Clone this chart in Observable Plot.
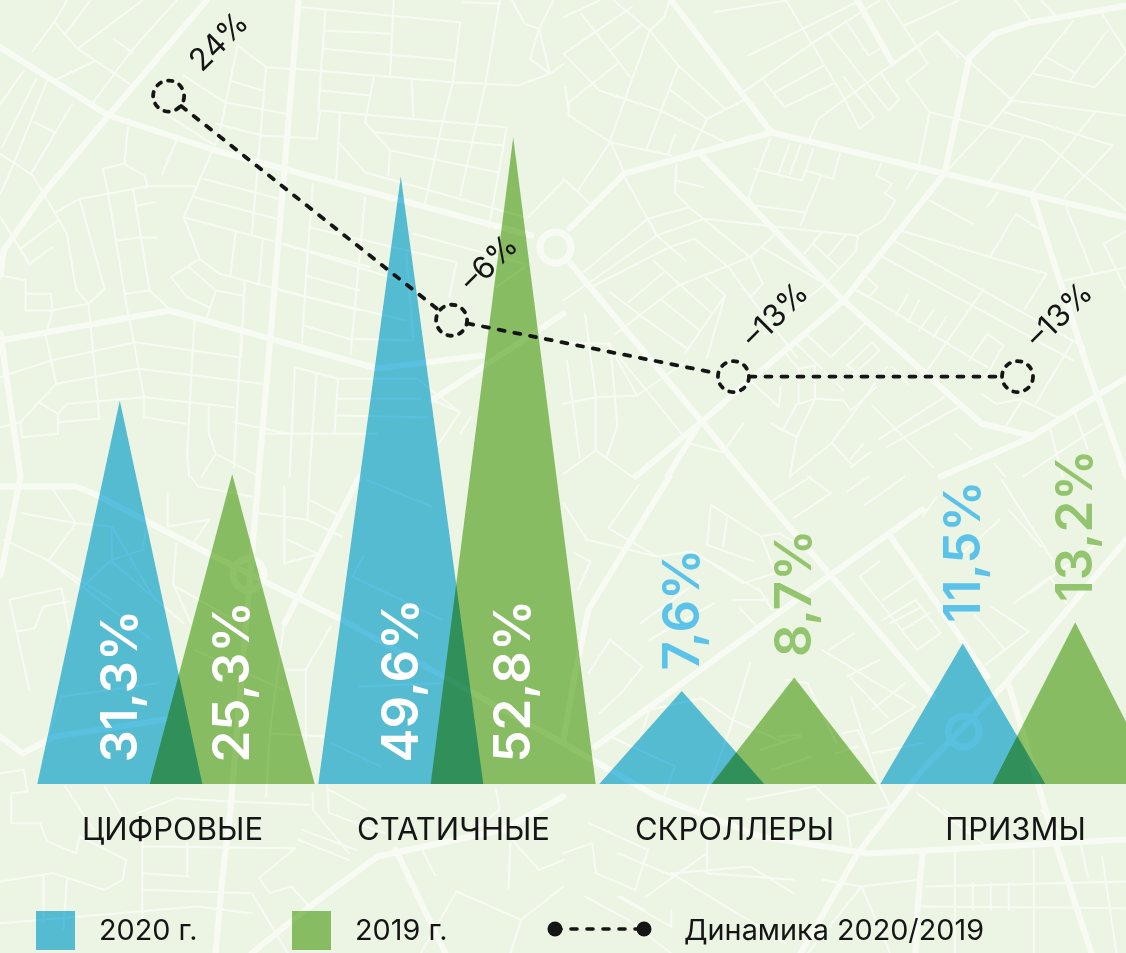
<!DOCTYPE html>
<html lang="ru">
<head>
<meta charset="utf-8">
<title>Динамика</title>
<script src="https://cdn.jsdelivr.net/npm/d3@7"></script>
<script src="https://cdn.jsdelivr.net/npm/@observablehq/plot@0.6"></script>
<style>
html,body{margin:0;padding:0;background:#ecf5e3;overflow:hidden}
#page{position:relative;width:1126px;height:953px;font-family:Inter,sans-serif;color:#151515}
#chart svg{display:block}
.lg{position:absolute;font-size:28.8px;line-height:38px;white-space:nowrap}
.sw{position:absolute;top:911px;width:39px;height:39px;mix-blend-mode:multiply}
</style>
</head>
<body>
<div id="page">
  <div id="chart"></div>
  <div class="sw" style="left:36px;background:#5BC3EA"></div>
  <div class="lg" id="l2020" style="left:99px;top:911px"></div>
  <div class="sw" style="left:292px;background:#93C46E"></div>
  <div class="lg" id="l2019" style="left:355px;top:911px"></div>
  <svg style="position:absolute;left:545px;top:919px" width="110" height="20">
    <line x1="10" y1="10" x2="99" y2="10" stroke="#151515" stroke-width="3.6" stroke-dasharray="6 10" stroke-linecap="round"/>
    <circle cx="10" cy="10" r="7.5" fill="#151515"/><circle cx="99" cy="10" r="7.5" fill="#151515"/>
  </svg>
  <div class="lg" id="ldyn" style="left:684px;top:911px"></div>
</div>
<script>
// ---- chart data ----
const categories = ["ЦИФРОВЫЕ", "СТАТИЧНЫЕ", "СКРОЛЛЕРЫ", "ПРИЗМЫ"];
const values2020 = [31.3, 49.6, 7.6, 11.5];
const values2019 = [25.3, 52.8, 8.7, 13.2];
const dynamicsLabels = ["24%", "–6%", "–13%", "–13%"];
const dynamicsLevel = [56.2, 37.9, 33.3, 33.3];
const dynamicsPos = [-0.028, 0.979, 1.982, 2.993];
const legendNames = ["2020 г.", "2019 г.", "Динамика 2020/2019"];

// ---- background street map: flat x,y lists, in map-sheet units ----
const roadsMajor = [
 [0,47,108,115,215,150,531,235],
 [206,0,108,115,43,193,3,250,0,275],
 [298,0,284,167,273,300,258,476,230,809,222,876,215,953],
 [0,340,169,310,377,368,481,355],
 [431,400,563,313],
 [0,333,20,476,10,526,0,575],
 [671,0,771,132],
 [624,173,771,132,944,173,1126,217],
 [624,173,569,228],
 [701,155,843,300,981,423,1030,435],
 [570,263,703,423,746,476,933,696],
 [1126,5,1030,22,994,33,969,57,944,173,843,300,699,423,635,476],
 [1033,198,1087,367,1126,476],
 [857,0,892,63],
 [1126,377,1030,437,940,476],
 [699,423,667,476],
 [669,476,588,609,574,676,563,740],
 [922,509,832,573,595,746],
 [890,536,987,676],
 [1126,539,1005,683,922,769,857,853,800,953],
 [563,743,656,796,760,836,868,853,1126,839],
 [1008,683,1055,843,1091,953],
 [922,853,917,909,915,953],
 [0,486,75,486,93,493,208,553,280,589,341,619,563,743],
 [284,623,359,476],
 [377,856,309,906,251,953],
 [377,856,503,829,563,796],
 [395,849,445,953],
 [0,736,22,753,54,736,165,719]
];
const roundabouts = [[555,247],[248,574],[963,731]];
const sheetNW = [
 [185,0,150,65,90,150],[150,65,215,145,360,250],[265,180,150,240],[250,0,180,100],[395,0,215,145],
 [490,0,365,150,255,310],[315,115,365,155],[100,235,5,440],[65,210,0,310],[200,310,85,520],[130,240,40,480,0,580],
 [95,365,150,395],[0,460,90,525,185,700,210,865,245,910],[155,635,220,595,300,580,410,557,550,557],
 [160,660,55,745,80,790,145,740],[0,650,80,790],[285,505,345,490,400,525,410,557],[285,505,300,580,355,940],[345,490,355,380],
 [220,595,290,865,245,910,140,930,70,930,70,840,0,825],[70,880,140,880,145,930,130,990],[370,570,415,870,470,925],
 [380,615,430,605],[325,720,390,710,435,712],[350,880,415,870],[245,910,270,1190,275,1255,160,1265],
 [125,1000,155,1150,55,1265,60,1310,160,1300,160,1240,105,1205],[0,1130,140,1080,375,1025,665,1070],[0,1280,55,1265],
 [155,1150,385,1105,730,1150],[360,960,400,1190,400,1250,515,1270],[160,1240,185,1210,400,1190,650,1220],
 [600,370,730,405,880,415,890,330],[510,225,625,305,795,340],[640,240,730,270],[660,135,740,200,805,205],[740,200,700,700],
 [660,135,610,400,510,650,555,775,610,820,1000,930],[565,535,775,595],[540,590,770,655],[510,650,1030,800],
 [460,340,590,430],[490,420,450,520],[555,775,475,830,520,890,580,920],[525,800,600,870,675,885],[600,870,575,950],
 [680,845,670,1070],[655,695,640,825],[730,720,720,850],[540,960,520,1360,525,1428],[670,1000,650,1400],
 [820,205,1260,245,1440,255,1530,220,1500,85],[905,30,885,330,1410,380,1360,680],[840,20,1280,65,1260,245,1230,370,1180,620],
 [900,90,1090,100],[900,145,1265,180],[1095,0,1085,225],[890,270,1030,285],[1040,230,1015,365,1085,450,1080,525],
 [1145,240,1150,350],[945,340,935,540],[945,430,1015,515,1460,650],[1015,365,1040,395,1400,435],[1085,450,1385,515],
 [1350,255,1280,585],[1390,0,1350,255],[1290,5,1390,10],[1425,0,1460,70,1500,85,1540,0],[1500,85,1475,175,1530,220,1568,190],
 [870,550,850,840,840,1025],[1015,590,975,1060],[860,680,1270,785,1250,890],[785,730,1145,850],[780,870,1130,960],
 [850,825,1000,870],[845,975,970,1015,1150,1020],[1130,760,1150,1020],[1150,700,1460,790],
 [820,1100,940,1135,1160,1135,1280,1235,1220,1330],[820,1100,805,1428],[880,1120,860,1428],[940,1135,930,1300],
 [735,1300,1050,1300],[940,1195,1170,1195],[935,1245,1190,1250],[1205,1200,1280,1235],[1310,1250,1280,1300],
 [650,1265,800,1300],[580,1220,580,1300,600,1360,720,1428],[600,1360,560,1428],[1470,650,1568,540],[1460,800,1380,860]
];
const sheetNE = [
 [0,160,190,20],[50,40,190,235],[140,0,240,90],[0,50,100,0],[130,150,220,70],[0,160,100,270,270,330,450,425],
 [240,90,320,195,450,325],[240,90,130,420,170,520],[280,50,240,90],[295,0,280,50],[320,195,230,450],[300,270,400,355],
 [400,355,355,455],[500,300,400,355],[150,190,15,305,15,345,130,425,300,465],[5,260,15,345],[130,425,40,570],[0,535,75,610],
 [310,405,290,465],[420,35,620,0],[515,165,825,0],[500,275,690,130,880,0],[620,0,780,290,825,385,865,350,780,230],
 [590,275,725,195],[615,320,750,250],[555,235,615,320],[735,95,905,330,935,298,885,220],[785,60,850,165,880,145],
 [915,190,1040,95,1100,170],[1040,95,1250,300,1568,345],[950,75,1100,0],[900,0,1015,190,955,240,1020,335,990,490],
 [710,355,885,215,1000,130],[710,355,685,415],[1020,335,1335,420,1450,525,1568,630],[1250,300,1060,520],[1230,335,1530,435],
 [1420,60,1190,375],[1280,410,1185,545],[1480,335,1305,575],[1530,435,1395,590],[1345,170,1420,215],[1310,220,1480,260,1568,155],
 [1515,90,1410,240],[1500,40,1568,155],[1260,0,1300,60],[1330,0,1370,45],[1210,575,1180,620],[985,515,955,565],
 [885,490,870,525,915,550,895,578,925,600,890,660,820,705,815,750,730,850,560,1000],
 [575,415,515,590,530,615,670,635],[530,505,665,540,695,445],[630,430,600,515],[660,435,630,520],[675,510,750,535,770,460],
 [715,530,660,675],[315,490,310,575,350,620,520,770,555,850,520,890,650,1070],[315,540,390,560],[350,620,235,655,260,705,390,655,820,705],
 [170,530,260,705,340,780],[295,740,365,715,460,800,520,890],[235,655,55,815],[260,705,0,900],[295,740,85,855],[250,780,410,935],
 [320,855,520,770,590,700],[280,815,180,905],[320,855,145,1000],[130,875,220,950,345,1045],[275,900,380,990],[390,825,450,885,400,1070],
 [450,885,340,1055],[550,740,730,850],[670,760,720,695],[695,730,765,800],[735,770,785,705],[940,690,1345,820,1285,925],
 [920,720,1450,1040],[890,770,1420,1080],[1260,640,1190,765],[1260,640,1325,685],[1020,600,1140,670],[1395,840,1568,800],
 [1475,820,1400,620],[1505,730,1568,690],[1505,730,1568,870],[820,870,1180,1100],[845,830,875,860,850,890,815,870],
 [960,880,925,945],[990,900,960,965],[1030,930,990,990],[1065,950,1030,1010],[1170,865,1000,1130],[1180,1000,1130,1080],
 [1180,1000,1225,1035,1170,1140],[840,970,745,1070,680,1005],[650,1030,780,1170],[620,1060,655,1105,700,1095,700,1195,780,1200,800,1230,870,1160],
 [655,1105,655,1210,700,1195],[650,1210,610,1290,580,1270,650,1310,630,1428],[700,1195,650,1310],[510,1130,600,1220,605,1160],
 [860,1025,790,1095,840,1130],[860,1025,880,1050,800,1130],[915,1100,960,1150],[1060,1190,880,1315],[1100,1220,900,1340],
 [860,1215,1030,1400],[1090,1300,1135,1345],[750,1330,800,1390],[835,1330,800,1375],[855,1355,800,1400],[900,1100,745,1330,630,1428],
 [1165,1180,1205,1210,1280,1195],[1280,1200,1375,1250],[1315,1210,1420,1020],[1280,1195,1230,1280],[1355,1285,1390,1428],
 [1425,1240,1460,1345],[1200,1390,1230,1428],[1500,1270,1280,1428],[60,940,90,1190,90,1350],[130,1030,150,1275,120,1370],
 [0,1025,125,1030,205,1185],[125,1030,330,1300],[90,1190,205,1185,345,1080],[10,1080,45,1370],[0,1210,90,1190],[90,1350,0,1420],
 [90,1350,190,1428],[355,1330,445,1355],[500,1270,445,1355]
];
const sheetSW = [
 [60,110,210,140,135,250],[140,30,210,140,310,150,425,360],[310,150,310,250,395,220,410,130],[10,190,130,250,310,370],[310,255,510,440],
 [25,370,170,335,195,480],[25,370,80,640],[45,465,95,455,120,390,190,375],
 [0,890,65,880,75,945,30,950,30,1040,110,1040,130,1095,210,1130,220,1080,350,1150,340,1210,290,1240,145,1190,0,1215],
 [180,930,260,1060],[290,930,350,1040],[380,1010,490,965,640,975,860,985],[395,1075,395,1340],[520,1100,520,1200],[395,1110,820,1115],
 [120,1200,120,1340],[185,1210,175,1360],[395,1190,525,1200],[395,1240,700,1250,800,1430],[0,1340,550,1290,700,1310],
 [465,50,465,150,580,130,540,195],[490,200,480,325,650,430],[480,320,530,440],[530,0,550,30,700,60],[720,110,855,130],
 [790,30,790,260,880,235],[860,0,855,130,950,180],[800,190,880,230],[750,770,900,780],[790,440,750,770,740,960],[850,580,850,790],
 [800,580,850,580,920,450],[860,70,950,120],[870,950,870,1000,970,1130],[840,1060,990,1120],[830,1090,970,1150],[910,925,915,1010,1070,1070],
 [915,940,1020,1000],[820,1115,720,1205,750,1250,810,1230,860,1290],[1010,240,980,300],[980,300,1230,430],[1020,10,1200,90],[1000,630,1230,620],
 [130,250,420,490],[310,250,220,340],[1170,1110,1210,1195],[1270,1245,1450,1330,1420,1431],[1270,1245,1170,1431],[1380,940,1390,1000,1330,1050],
 [1400,1060,1500,1180,1568,1150],[1420,1100,1415,1235],[1450,1330,1568,1230],[540,520,790,640],[130,780,170,660,440,620],[920,800,1060,870]
];
const sheetSE = [
 [0,80,65,190,260,240,360,225,550,345],[210,25,125,155,260,240],[410,90,400,205,530,255],[410,85,550,180,600,170],[455,125,445,210],
 [600,170,680,220],[550,180,590,290,500,320,360,225],[585,70,690,0],[640,125,745,50,680,0],[790,45,850,0],[840,85,950,0],[545,335,580,400],
 [470,370,570,370],[490,395,535,445],[240,490,420,380],[215,440,380,310],[130,490,70,590],[130,490,220,570,160,650,100,710],[30,230,75,255,40,340],
 [825,300,880,255],[825,300,985,520,1050,470,980,370,890,430],[985,300,890,370],[1000,390,910,440],[945,460,1020,410],[1000,120,1040,60],
 [1190,390,1295,465,1175,565],[1145,415,1230,520],[1215,130,1100,240],[1255,380,1355,300,1400,380],[1220,10,1380,280],[1240,100,1330,210],[1500,190,1300,350],
 [720,520,980,690,860,770],[790,600,880,550],[740,520,810,470],[860,700,950,620],[800,605,900,720],[520,560,460,770,380,1000],[385,665,240,700,210,790],
 [385,665,470,730,620,800],[620,610,680,620,760,800],[780,770,820,760,850,830],[860,830,1000,800],[760,830,820,810],[800,660,830,760,880,925],
 [130,780,310,870,280,960],[600,780,660,775],[550,820,660,780],[580,880,690,840],[790,1020,910,990,880,925],[510,970,700,930,790,1020,800,1110],
 [985,950,1190,1120],[1060,1000,1130,1060],[1330,1000,1390,1080],[70,1040,235,1120,200,1240,90,1190,80,1100,0,1130],[400,1090,400,1190,640,1210],
 [150,1130,310,1200],[305,1190,520,1170,640,1250],[230,1260,400,1130],[300,1190,620,1400],[150,1260,300,1350,300,1300],[60,1260,180,1330,300,1431],
 [160,1260,225,1300],[720,1210,830,1230,990,1210],[680,1431,830,1230,910,1431],[1010,1230,1568,1215],[990,1290,1568,1295],[1090,1125,1090,1431],
 [1140,1220,1140,1300],[1190,1220,1190,1300],[1240,1220,1240,1300],[1310,1120,1310,1431],[1440,1100,1460,1200],[1500,1140,1540,1431]
];

// ---- build tables ----
const step = 281, originX = 176, baseY = 784, perPoint = 12.25;
const mapX = p => (p - originX) / step;
const mapY = p => (baseY - p) / perPoint;
const polyRows = (lists, sx = 1, sy = 1, ox = 0, oy = 0) => lists.flatMap((list, i) =>
  d3.range(0, list.length, 2).map(k => ({id: i, mx: mapX(ox + list[k] / sx), my: mapY(oy + list[k + 1] / sy)})));
const sx = 2.785, sy = 3;
const thin = [
  ...polyRows(sheetNW, sx, sy, 0, 0).map(d => ({...d, id: "a" + d.id})),
  ...polyRows(sheetNE, sx, sy, 563, 0).map(d => ({...d, id: "b" + d.id})),
  ...polyRows(sheetSW, sx, sy, 0, 476).map(d => ({...d, id: "c" + d.id})),
  ...polyRows(sheetSE, sx, sy, 563, 476).map(d => ({...d, id: "d" + d.id}))
];
const major = polyRows(roadsMajor);
const rings = roundabouts.map(([x, y]) => ({mx: mapX(x), my: mapY(y)}));

const halfBase = 0.2936, shift = 0.2;
const triangle = (vals, off) => vals.flatMap((v, i) => [
  {id: i, x: i + off - halfBase, v: 0},
  {id: i, x: i + off, v},
  {id: i, x: i + off + halfBase, v: 0}
]);
const fmt = v => String(v).replace(".", ",") + "%";
const bars = [
  ...values2020.map((v, i) => ({v, x: i - shift, inside: v > 20, color: "#5BC3EA", label: fmt(v)})),
  ...values2019.map((v, i) => ({v, x: i + shift, inside: v > 20, color: "#93C46E", label: fmt(v)}))
];
const dyn = dynamicsLevel.map((level, i) => ({level, x: dynamicsPos[i], label: dynamicsLabels[i]}));
const segs = dyn.slice(1).map((d, i) => ({x1: dyn[i].x, y1: dyn[i].level, x2: d.x, y2: d.level}));

const mapColor = "#f8fbf4";
const ink = "#151515";
const fam = "Inter, sans-serif";
const labelFloor = 22 / perPoint;

const chart = Plot.plot({
  width: 1126, height: 953,
  marginTop: 0, marginLeft: 0, marginRight: 0, marginBottom: 953 - baseY,
  style: {background: "#ecf5e3", fontFamily: fam, overflow: "hidden"},
  x: {axis: null, domain: [mapX(0), mapX(1126)]},
  y: {axis: null, domain: [0, baseY / perPoint]},
  marks: [
    // street map
    Plot.line(thin, {x: "mx", y: "my", z: "id", stroke: mapColor, strokeWidth: 2, curve: "linear"}),
    Plot.line(major, {x: "mx", y: "my", z: "id", stroke: mapColor, strokeWidth: 6, curve: "linear"}),
    Plot.dot(rings, {x: "mx", y: "my", r: 15.5, fill: "none", stroke: mapColor, strokeWidth: 7}),
    // triangles
    Plot.area(triangle(values2020, -shift), {x1: "x", y1: 0, y2: "v", z: "id", fill: "#5BC3EA", mixBlendMode: "multiply", curve: "linear"}),
    Plot.area(triangle(values2019, shift), {x1: "x", y1: 0, y2: "v", z: "id", fill: "#93C46E", mixBlendMode: "multiply", curve: "linear"}),
    // value labels
    Plot.text(bars.filter(d => d.inside), {x: "x", y: labelFloor, text: "label", rotate: -90, textAnchor: "start", lineAnchor: "middle", fill: "#fff", fontSize: 51, fontWeight: 600}),
    Plot.text(bars.filter(d => !d.inside), {x: "x", y: "v", text: "label", rotate: -90, textAnchor: "start", lineAnchor: "middle", dy: -21, fill: "color", fontSize: 51, fontWeight: 600}),
    // category labels
    Plot.text(categories, {x: (d, i) => i, y: 0, text: d => d, dy: 46, dx: -4, fill: ink, fontSize: 31, lineAnchor: "middle"}),
    // dynamics
    Plot.arrow(segs, {x1: "x1", y1: "y1", x2: "x2", y2: "y2", insetStart: 16, insetEnd: 16, headLength: 0, stroke: ink, strokeWidth: 3.8, strokeDasharray: "6 10", strokeLinecap: "round"}),
    Plot.dot(dyn, {x: "x", y: "level", r: 15.5, fill: "none", stroke: ink, strokeWidth: 3.8, strokeDasharray: "4.5 7.5", strokeLinecap: "round"}),
    Plot.text(dyn.slice(0, 1), {x: "x", y: "level", text: "label", rotate: -45, textAnchor: "start", lineAnchor: "middle", dx: 26, dy: -30, fill: ink, fontSize: 31}),
    Plot.text(dyn.slice(1), {x: "x", y: "level", text: "label", rotate: -45, textAnchor: "start", lineAnchor: "middle", dx: 15, dy: -34, fill: ink, fontSize: 31})
  ]
});
document.getElementById("chart").append(chart);
document.getElementById("l2020").textContent = legendNames[0];
document.getElementById("l2019").textContent = legendNames[1];
document.getElementById("ldyn").textContent = legendNames[2];
</script>
</body>
</html>
